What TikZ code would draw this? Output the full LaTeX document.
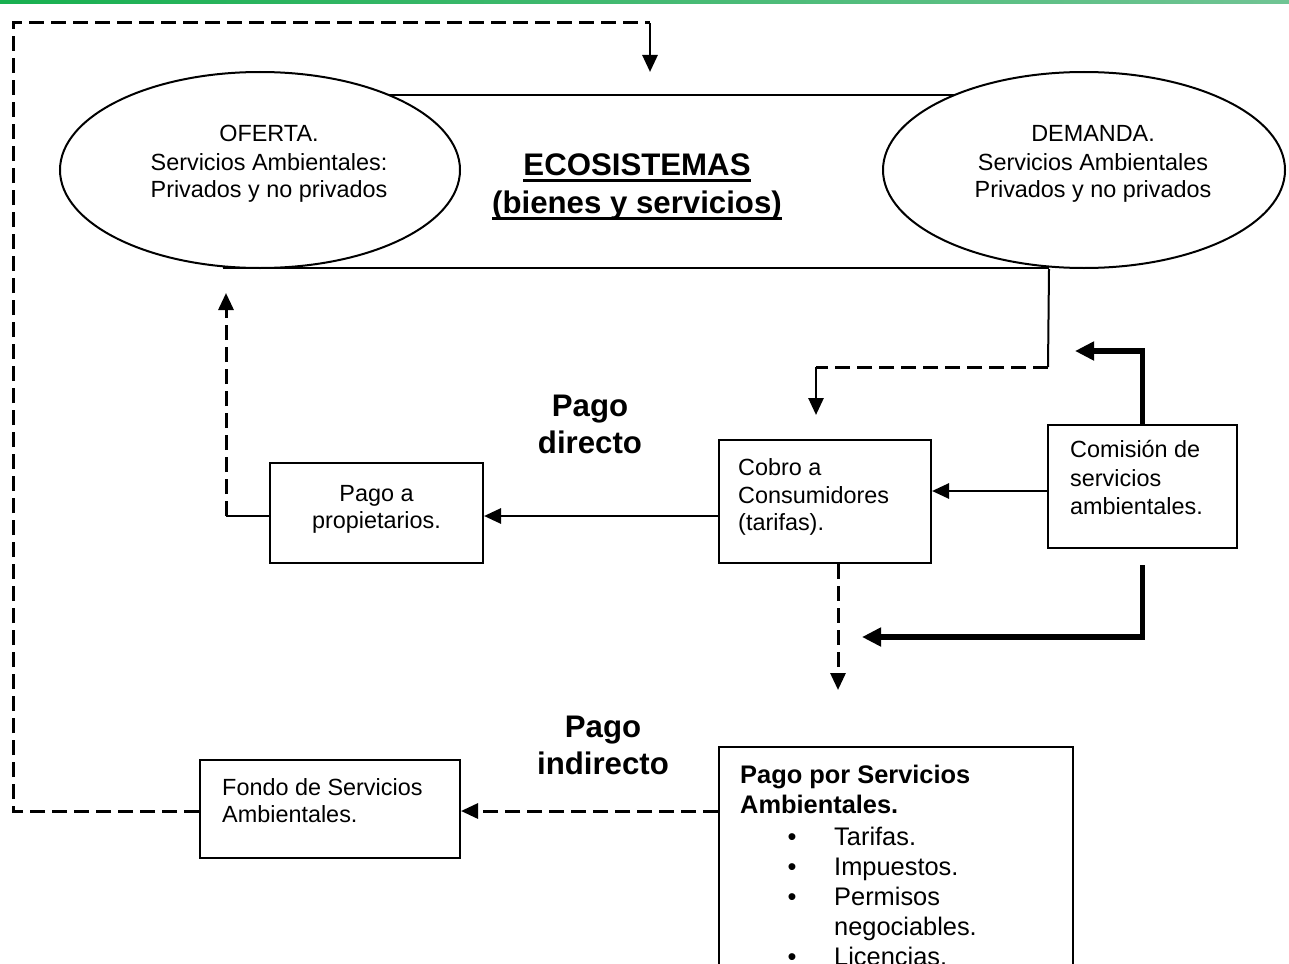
\documentclass[tikz,border=0pt]{standalone}
\usepackage{fontspec}
\setmainfont{Liberation Sans}
\usetikzlibrary{arrows.meta,shapes.geometric}
\newcommand{\ntxt}{\fontsize{23.4pt}{27pt}\selectfont}
\newcommand{\btxt}{\fontsize{31.2pt}{37pt}\selectfont\bfseries}
\newcommand{\ptxt}{\fontsize{25.4pt}{30pt}\selectfont}
\definecolor{gA}{RGB}{24,176,80}
\definecolor{gB}{RGB}{112,196,148}
\tikzset{
  box/.style={draw, line width=2pt, inner sep=0pt},
  ell/.style={draw, ellipse, line width=2pt, fill=white, inner sep=0pt},
  conn/.style={line width=2.8pt},
  arr/.style={conn, -{Triangle[length=17pt,width=15pt]}},
  dashline/.style={line width=3pt, dash pattern=on 15pt off 7pt},
  dasharr/.style={dashline, -{Triangle[length=17pt,width=15pt]}},
  thickarr/.style={line width=5.5pt, -{Triangle[length=19pt,width=18pt]}},
  txt/.style={inner sep=0pt, font=\ntxt},
  btx/.style={inner sep=0pt, font=\btxt},
  ptx/.style={inner sep=0pt, font=\ptxt},
}
\begin{document}
\begin{tikzpicture}[x=1pt,y=-1pt]
\useasboundingbox (0,0) rectangle (1289,963);
\clip (0,0) rectangle (1289,963);
\fill[white] (0,0) rectangle (1289,963);
\shade[left color=gA, right color=gB] (0,0) rectangle (1289,3.5);

% central rectangle and ellipses
\node[box, minimum width=824pt, minimum height=173pt] (eco) at (636,181.5) {};
\node[ell, minimum width=400pt, minimum height=196pt] (ofe) at (260,170) {};
\node[ell, minimum width=402pt, minimum height=196pt] (dem) at (1084,170) {};

\node[txt, anchor=base] (of1) at (269,142) {OFERTA.};
\node[txt, anchor=base] (of2) at (269,170) {Servicios Ambientales:};
\node[txt, anchor=base] (of3) at (269,197) {Privados y no privados};
\node[txt, anchor=base] (de1) at (1093,142) {DEMANDA.};
\node[txt, anchor=base] (de2) at (1093,170) {Servicios Ambientales};
\node[txt, anchor=base] (de3) at (1093,197) {Privados y no privados};

\node[btx, anchor=base] (ec1) at (637,175) {ECOSISTEMAS};
\node[btx, anchor=base] (ec2) at (637,213) {(bienes y servicios)};
\draw[line width=2.8pt] ([yshift=-5.5pt]ec1.base west) -- ([yshift=-5.5pt]ec1.base east);
\draw[line width=2.8pt] ([yshift=-5.5pt]ec2.base west) -- ([yshift=-5.5pt]ec2.base east);

% boxes
\node[box, minimum width=213pt, minimum height=100pt] (pago) at (376.5,513) {};
\node[box, minimum width=212pt, minimum height=123pt] (cobro) at (825,501.5) {};
\node[box, minimum width=189pt, minimum height=123pt] (comis) at (1142.5,486.5) {};
\node[box, minimum width=260pt, minimum height=98pt] (fondo) at (330,809) {};
\node[box, minimum width=354pt, minimum height=253pt] (psa) at (896,873.5) {};

\node[txt, anchor=base] (pa1) at (376.5,501) {Pago a};
\node[txt, anchor=base] (pa2) at (376.5,528) {propietarios.};
\node[txt, anchor=base west] (co1) at (738,475) {Cobro a};
\node[txt, anchor=base west] (co2) at (738,503) {Consumidores};
\node[txt, anchor=base west] (co3) at (738,530) {(tarifas).};
\node[txt, anchor=base west] (cm1) at (1070,457) {Comisión de};
\node[txt, anchor=base west] (cm2) at (1070,486) {servicios};
\node[txt, anchor=base west] (cm3) at (1070,514) {ambientales.};
\node[txt, anchor=base west] (fo1) at (222,795) {Fondo de Servicios};
\node[txt, anchor=base west] (fo2) at (222,822) {Ambientales.};

\node[ptx, anchor=base west, font=\ptxt\bfseries] (ps1) at (740,783) {Pago por Servicios};
\node[ptx, anchor=base west, font=\ptxt\bfseries] (ps2) at (740,813) {Ambientales.};
\node[ptx, anchor=base] (bu1) at (792,845) {•};
\node[ptx, anchor=base west] (it1) at (834,845) {Tarifas.};
\node[ptx, anchor=base] (bu2) at (792,875) {•};
\node[ptx, anchor=base west] (it2) at (834,875) {Impuestos.};
\node[ptx, anchor=base] (bu3) at (792,905) {•};
\node[ptx, anchor=base west] (it3) at (834,905) {Permisos};
\node[ptx, anchor=base west] (it4) at (834,935) {negociables.};
\node[ptx, anchor=base] (bu5) at (792,965) {•};
\node[ptx, anchor=base west] (it5) at (834,965) {Licencias.};

% labels
\node[btx, anchor=base] (pd1) at (590,416) {Pago};
\node[btx, anchor=base] (pd2) at (590,453) {directo};
\node[btx, anchor=base] (pi1) at (603,737) {Pago};
\node[btx, anchor=base] (pi2) at (603,774) {indirecto};

% coordinates
\coordinate (l1) at (0,516);
\coordinate (l2) at (0,491);
\coordinate (l7) at (0,811);
\coordinate (c3) at (1075,351);
\coordinate (c4s) at (1142.5,565);
\coordinate (c4) at (862,637);
\coordinate (c5a) at (1048,367);
\coordinate (c5b) at (816,367);
\coordinate (c5c) at (816,415);
\coordinate (c6) at (838,690);
\coordinate (lp1) at (13,811);
\coordinate (lp2) at (13,23);
\coordinate (lp3) at (650,23);
\coordinate (lp4) at (650,72);
\coordinate (c9a) at (226,516);
\coordinate (c9b) at (226,293);

% connectors
\draw[arr] (cobro.west |- l1) -- (pago.east |- l1);
\draw[arr] (comis.west |- l2) -- (cobro.east |- l2);
\draw[thickarr] (comis.north) |- (c3);
\draw[thickarr] (c4s) |- (c4);
\draw[line width=2pt] (eco.south east) -- (c5a);
\draw[dashline] (c5a) -- (c5b);
\draw[arr] (c5b) -- (c5c);
\draw[dasharr] (cobro.south -| c6) -- (c6);
\draw[dasharr] (psa.west |- l7) -- (fondo.east |- l7);
\draw[dashline] (fondo.west |- l7) -- (lp1) -- (lp2) -- (lp3);
\draw[arr] (lp3) -- (lp4);
\draw[line width=2pt] (pago.west |- l1) -- (c9a);
\draw[dasharr] (c9a) -- (c9b);
\end{tikzpicture}
\end{document}
